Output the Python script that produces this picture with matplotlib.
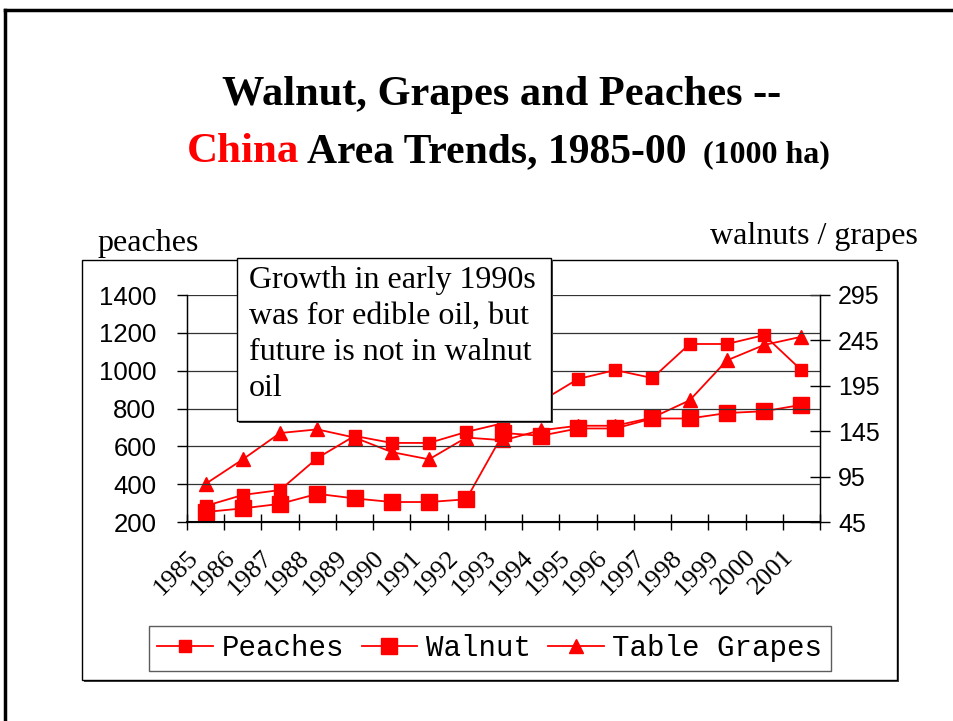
import matplotlib
matplotlib.use("Agg")
from matplotlib import pyplot as plt
from matplotlib.patches import Rectangle
from matplotlib.lines import Line2D
from matplotlib.transforms import ScaledTranslation

# dados
years = ["1985", "1986", "1987", "1988", "1989", "1990", "1991", "1992", "1993",
         "1994", "1995", "1996", "1997", "1998", "1999", "2000", "2001"]
peaches = [285, 343, 369, 538, 655, 618, 618, 676, 723, 837, 956, 1003, 961, 1141, 1141, 1188, 1003]
walnut = [56, 60, 65, 76, 71, 67, 67, 70, 143, 140, 148, 148, 159, 159, 165, 167, 174]
grapes = [87, 114, 143, 147, 138, 122, 114, 138, 135, 146, 151, 151, 160, 179, 223, 240, 249]

left_ticks = [200, 400, 600, 800, 1000, 1200, 1400]
right_ticks = [45, 95, 145, 195, 245, 295]

RED = "#ff0000"
serif = "Liberation Serif"
sans = "Liberation Sans"

fig = plt.figure(figsize=(9.54, 7.21), dpi=100)

# moldura do slide
fig.add_artist(Line2D([5 / 954, 1], [1 - 10 / 721, 1 - 10 / 721], color="black", lw=2.5))
fig.add_artist(Line2D([5 / 954, 5 / 954], [0, 1 - 10 / 721], color="black", lw=2.5))

# caixa do grafico com sombra
fig.add_artist(Rectangle((84 / 954, 1 - 682 / 721), 815 / 954, 420 / 721,
                         facecolor="#444444", edgecolor="none", zorder=-2))
fig.add_artist(Rectangle((82 / 954, 1 - 680 / 721), 815 / 954, 420 / 721,
                         facecolor="white", edgecolor="black", lw=1.0, zorder=-1))

# titulo
fig.text(0.526, 1 - 105 / 721, "Walnut, Grapes and Peaches --", ha="center", va="baseline",
         fontsize=30.5, fontweight="bold", family=serif)
fig.text(187 / 954, 1 - 162 / 721, "China", color=RED, ha="left", va="baseline",
         fontsize=31, fontweight="bold", family=serif)
fig.text(307 / 954, 1 - 162 / 721, "Area Trends, 1985-00", ha="left", va="baseline",
         fontsize=30, fontweight="bold", family=serif)
fig.text(703 / 954, 1 - 162 / 721, "(1000 ha)", ha="left", va="baseline",
         fontsize=23, fontweight="bold", family=serif)

ax = fig.add_axes([187 / 954, 1 - 522 / 721, 633 / 954, 227 / 721])
ax2 = ax.twinx()
x = list(range(len(years)))

l3, = ax2.plot(x, grapes, color=RED, lw=1.3, marker="^", markersize=10, label="Table Grapes")
l2, = ax2.plot(x, walnut, color=RED, lw=1.3, marker="s", markersize=11.5, label="Walnut")
l1, = ax.plot(x, peaches, color=RED, lw=1.3, marker="s", markersize=8, label="Peaches")

ax.set_zorder(ax2.get_zorder() + 1)
ax.patch.set_visible(False)

ax.set_xlim(-0.5, len(years) - 0.5)
ax.set_ylim(200, 1400)
ax.set_yticks(left_ticks)
ax.yaxis.grid(True, color="#333333", lw=0.9)
ax2.set_ylim(45, 295)
ax2.set_yticks(right_ticks)

ax.spines["top"].set_visible(False)
ax2.spines["top"].set_visible(False)
ax.spines["left"].set_linewidth(1.0)
ax2.spines["right"].set_linewidth(1.0)
ax.spines["bottom"].set_linewidth(1.5)

ax.set_xticks([i - 0.5 for i in range(len(years) + 1)])
ax.set_xticklabels([])
ax.set_xticks(x, minor=True)
ax.set_xticklabels(years, minor=True, rotation=45, ha="right", va="center",
                   rotation_mode="anchor", fontsize=19, family=serif)
ax.tick_params(axis="x", which="major", direction="inout", length=12, width=1)
ax.tick_params(axis="x", which="minor", length=0, pad=23)
for lab in ax.get_xticklabels(minor=True):
    lab.set_transform(lab.get_transform() + ScaledTranslation(-0.11, 0, fig.dpi_scale_trans))

ax.tick_params(axis="y", direction="out", length=7, width=1, labelsize=18.5, pad=15)
for lab in ax.get_yticklabels():
    lab.set_family(sans)
ax2.tick_params(axis="y", direction="inout", length=14, width=1, labelsize=18, pad=6)
for lab in ax2.get_yticklabels():
    lab.set_family(sans)

# titulos dos eixos
fig.text(97 / 954, 1 - 243 / 721, "peaches", ha="left", va="center", fontsize=23, family=serif)
fig.text(918 / 954, 1 - 236 / 721, "walnuts / grapes", ha="right", va="center", fontsize=23, family=serif)

# caixa de texto
fig.add_artist(Rectangle((239 / 954, 1 - 423 / 721), 314 / 954, 163 / 721,
                         facecolor="#444444", edgecolor="none", zorder=5))
fig.add_artist(Rectangle((237 / 954, 1 - 421 / 721), 314 / 954, 163 / 721,
                         facecolor="white", edgecolor="black", lw=1.0, zorder=6))
fig.text(249 / 954, 1 - 266 / 721,
         "Growth in early 1990s\nwas for edible oil, but\nfuture is not in walnut\noil",
         ha="left", va="top", fontsize=23, family=serif, linespacing=1.32, zorder=7)

# legenda
leg = fig.legend(handles=[l1, l2, l3], loc="center", bbox_to_anchor=(490 / 954, 1 - 648.5 / 721),
                 ncol=3, frameon=True, fancybox=False, edgecolor="#333333",
                 prop={"family": "Liberation Mono", "size": 21}, handlelength=1.9,
                 columnspacing=0.6, handletextpad=0.3, borderpad=0.3)
leg.get_frame().set_linewidth(1.0)

fig.savefig("out.png", dpi=100)
